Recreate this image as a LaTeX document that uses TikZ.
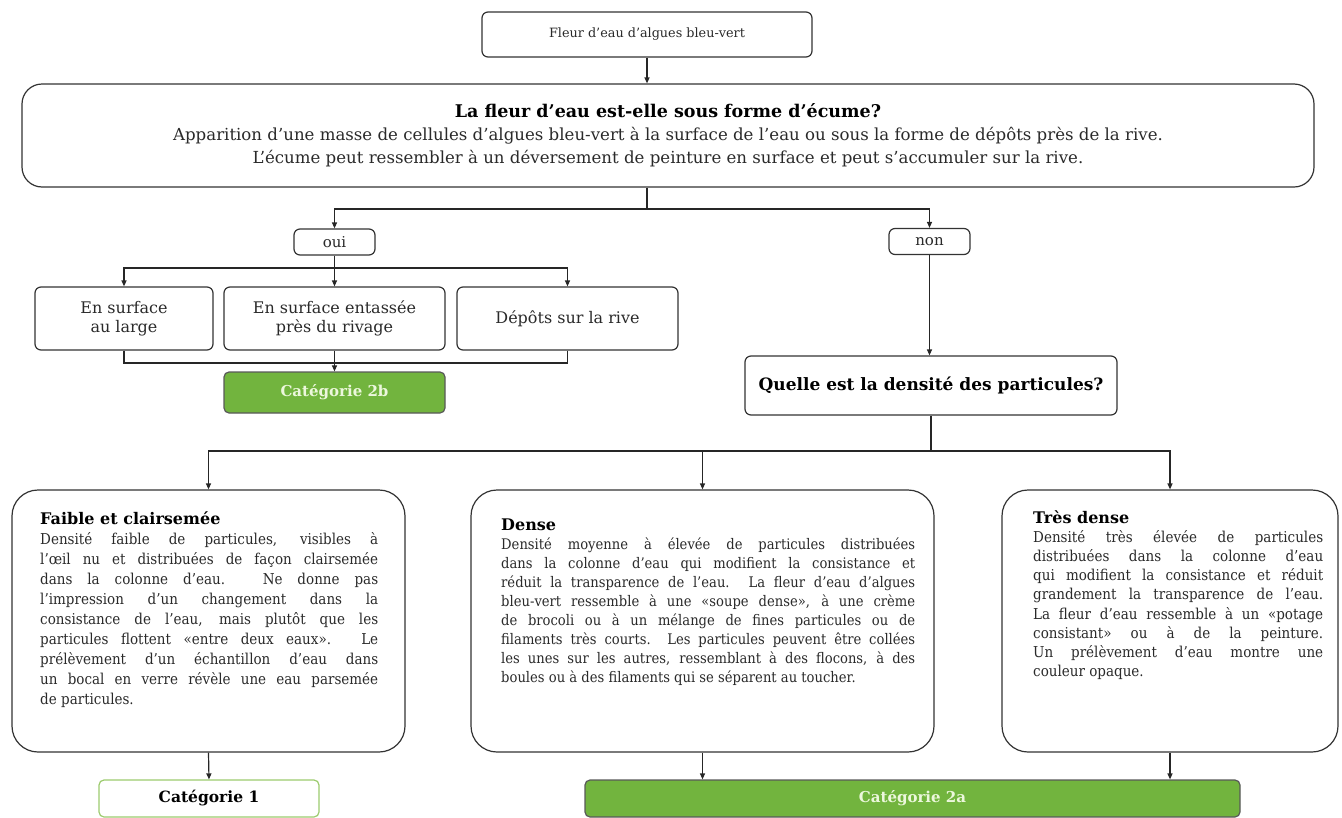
\documentclass[tikz,border=0pt]{standalone}
\usepackage{fontspec}
\setmainfont{DejaVu Serif}
\newfontfamily\bodyfont[FakeStretch=0.9]{DejaVu Serif}
\usetikzlibrary{arrows.meta}
\definecolor{lgreen}{HTML}{72B43E}
\definecolor{cgreen}{HTML}{9CCB6E}
\definecolor{txt}{HTML}{2A2A2A}
\definecolor{lntxt}{HTML}{ECF7DC}
\begin{document}
\begin{tikzpicture}[x=1pt,y=-1pt,
  line/.style={draw=black!85, line width=1.2pt},
  arr/.style={line, -{Triangle[length=6pt,width=5pt]}},
  sbox/.style={draw=black!80, line width=1.2pt, rounded corners=6pt, fill=white, align=center, inner sep=0pt, text=txt, font=\fontsize{16}{19}\selectfont},
  catbox/.style={draw=black!65, line width=1.2pt, rounded corners=5pt, fill=lgreen, text=lntxt, font=\bfseries\fontsize{15}{18}\selectfont, inner sep=0pt},
  bigbox/.style={draw=black!80, line width=1.2pt, rounded corners=26pt, fill=white, inner sep=0pt},
  body/.style={anchor=north west, inner sep=0pt, text=txt, align=justify},
  ttl/.style={font=\bfseries\fontsize{16}{19}\selectfont}
]
\useasboundingbox (0,0) rectangle (1342,817);

% top
\node[sbox, minimum width=330pt, minimum height=45pt, font=\fontsize{12.8}{16}\selectfont] (top) at (647,34.5) {Fleur d’eau d’algues bleu-vert};
\node[sbox, rounded corners=20pt, minimum width=1292pt, minimum height=103pt, font=\fontsize{16.6}{23}\selectfont] (big) at (668,135.5)
  {{\bfseries\color{black}\fontsize{17.5}{23}\selectfont La fleur d’eau est-elle sous forme d’écume?}\\
   Apparition d’une masse de cellules d’algues bleu-vert à la surface de l’eau ou sous la forme de dépôts près de la rive.\\
   L’écume peut ressembler à un déversement de peinture en surface et peut s’accumuler sur la rive.};
\draw[arr] (top.south) -- (top.south |- big.north);

% oui / non
\node[sbox, minimum width=81pt, minimum height=26pt, font=\fontsize{15}{18}\selectfont] (oui) at (334.5,242) {oui};
\node[sbox, minimum width=81pt, minimum height=26pt, font=\fontsize{15}{18}\selectfont] (non) at (929.5,241.5) {non};
\coordinate (split) at (647,209);
\draw[line] (split |- big.south) -- (split);
\draw[arr] (split) -| (oui.north);
\draw[arr] (split) -| (non.north);

% oui branch
\node[sbox, minimum width=178pt, minimum height=63pt] (A) at (124,318.5) {En surface\\au large};
\node[sbox, minimum width=221pt, minimum height=63pt] (B) at (334.5,318.5) {En surface entassée\\près du rivage};
\node[sbox, minimum width=221pt, minimum height=63pt] (C) at (567.5,318.5) {Dépôts sur la rive};
\coordinate (j1) at (334.5,268);
\draw[arr] (oui.south) -- (B.north);
\draw[arr] (j1) -| (A.north);
\draw[arr] (j1) -| (C.north);
\node[catbox, minimum width=221pt, minimum height=41pt] (c2b) at (334.5,392.5) {Catégorie 2b};
\coordinate (j2) at (334.5,363);
\draw[line] (A.south) |- (j2);
\draw[line] (C.south) |- (j2);
\draw[arr] (B.south) -- (c2b.north);

% non branch
\node[sbox, minimum width=372pt, minimum height=59pt, font=\bfseries\fontsize{17}{20}\selectfont, text=black] (q) at (931,385.5) {Quelle est la densité des particules?};
\draw[arr] (non.south) -- (non.south |- q.north);
\coordinate (j3) at (931,451);
\draw[line] (q.south) -- (j3);

\node[bigbox, minimum width=393pt, minimum height=262pt] (L1) at (208.5,621) {};
\node[bigbox, minimum width=463pt, minimum height=262pt] (L2) at (702.5,621) {};
\node[bigbox, minimum width=336pt, minimum height=262pt] (L3) at (1170,621) {};
\draw[arr] (j3) -| (L1.north);
\draw[arr] (j3) -| (L2.north);
\draw[arr] (j3) -| (L3.north);

\node[body, text width=338pt, font=\bodyfont\fontsize{15}{20}\selectfont] (t1) at (40,511)
{\hyphenpenalty=10000\exhyphenpenalty=10000\tolerance=10000
{\normalfont\bfseries\fontsize{16}{20}\selectfont\color{black}Faible et clairsemée}\par
Densité faible de particules, visibles à\linebreak
l’œil nu et distribuées de façon clairsemée\linebreak
dans la colonne d’eau. Ne donne pas\linebreak
l’impression d’un changement dans la\linebreak
consistance de l’eau, mais plutôt que les\linebreak
particules flottent «entre deux eaux». Le\linebreak
prélèvement d’un échantillon d’eau dans\linebreak
un bocal en verre révèle une eau parsemée\linebreak
de particules.};

\node[body, text width=414pt, font=\bodyfont\fontsize{14.6}{19}\selectfont] (t2) at (501,519)
{\hyphenpenalty=10000\exhyphenpenalty=10000\tolerance=10000
{\normalfont\bfseries\fontsize{16}{19}\selectfont\color{black}Dense}\par
Densité moyenne à élevée de particules distribuées\linebreak
dans la colonne d’eau qui modifient la consistance et\linebreak
réduit la transparence de l’eau. La fleur d’eau d’algues\linebreak
bleu-vert ressemble à une «soupe dense», à une crème\linebreak
de brocoli ou à un mélange de fines particules ou de\linebreak
filaments très courts. Les particules peuvent être collées\linebreak
les unes sur les autres, ressemblant à des flocons, à des\linebreak
boules ou à des filaments qui se séparent au toucher.};

\node[body, text width=290pt, font=\bodyfont\fontsize{15}{19.2}\selectfont] (t3) at (1033,510)
{\hyphenpenalty=10000\exhyphenpenalty=10000\tolerance=10000
{\normalfont\bfseries\fontsize{16}{19.2}\selectfont\color{black}Très dense}\par
Densité très élevée de particules\linebreak
distribuées dans la colonne d’eau\linebreak
qui modifient la consistance et réduit\linebreak
grandement la transparence de l’eau.\linebreak
La fleur d’eau ressemble à un «potage\linebreak
consistant» ou à de la peinture.\linebreak
Un prélèvement d’eau montre une\linebreak
couleur opaque.};

% categories
\node[catbox, fill=white, draw=cgreen, text=black, minimum width=220pt, minimum height=37pt, font=\bfseries\fontsize{15.5}{18}\selectfont] (c1) at (209,798.5) {Catégorie 1};
\node[catbox, minimum width=655pt, minimum height=37pt] (c2a) at (912.5,798.5) {Catégorie 2a};
\draw[arr] (L1.south) -- (c1.north);
\draw[arr] (L2.south) -- (L2.south |- c2a.north);
\draw[arr] (L3.south) -- (L3.south |- c2a.north);
\end{tikzpicture}
\end{document}
